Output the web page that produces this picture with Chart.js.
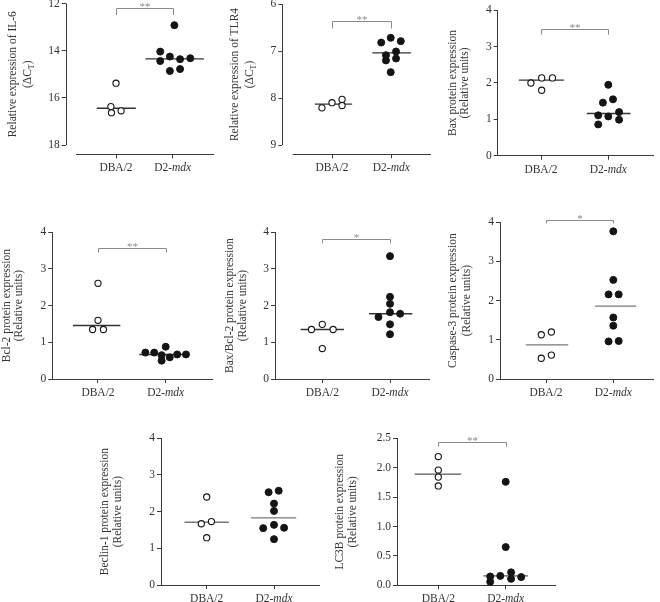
<!DOCTYPE html>
<html><head><meta charset="utf-8">
<script src="https://cdn.jsdelivr.net/npm/chart.js@4"></script>
<style>
html,body{margin:0;padding:0;background:#fff;}
#fig{position:relative;width:660px;height:602px;overflow:hidden;background:#fff;}
#fig canvas{position:absolute;}
</style></head><body><div id="fig"></div>
<script>
// ================= DATA =================
const groups = ['DBA/2', 'D2-mdx'];

const il6Title = ['Relative expression of IL-6', '(ΔC_T)'];
const il6Dba = [15.38, 16.37, 16.63, 16.55];
const il6Mdx = [12.92, 14.04, 14.44, 14.25, 14.36, 14.32, 14.86, 14.78];
const il6Median = [16.44, 14.35];
const il6Ticks = [12, 14, 16, 18];
const il6Sig = '**';

const tlr4Title = ['Relative expression of TLR4', '(ΔC_T)'];
const tlr4Dba = [8.21, 8.10, 8.03, 8.16];
const tlr4Mdx = [6.72, 6.82, 6.79, 7.09, 7.01, 7.20, 7.16, 7.45];
const tlr4Median = [8.13, 7.04];
const tlr4Ticks = [6, 7, 8, 9];
const tlr4Sig = '**';

const baxTitle = ['Bax protein expression', '(Relative units)'];
const baxDba = [2.00, 2.14, 2.14, 1.80];
const baxMdx = [1.95, 1.46, 1.55, 1.11, 1.08, 1.20, 0.86, 0.99];
const baxMedian = [2.08, 1.16];
const baxTicks = [0, 1, 2, 3, 4];
const baxSig = '**';

const bcl2Title = ['Bcl-2 protein expression', '(Relative units)'];
const bcl2Dba = [2.61, 1.60, 1.35, 1.35];
const bcl2Mdx = [0.72, 0.72, 0.88, 0.65, 0.59, 0.50, 0.67, 0.67];
const bcl2Median = [1.46, 0.67];
const bcl2Ticks = [0, 1, 2, 3, 4];
const bcl2Sig = '**';

const ratioTitle = ['Bax/Bcl-2 protein expression', '(Relative units)'];
const ratioDba = [1.35, 1.49, 1.35, 0.83];
const ratioMdx = [3.35, 2.24, 2.05, 1.69, 1.82, 1.78, 1.49, 1.22];
const ratioMedian = [1.35, 1.78];
const ratioTicks = [0, 1, 2, 3, 4];
const ratioSig = '*';

const casp3Title = ['Caspase-3 protein expression', '(Relative units)'];
const casp3Dba = [1.13, 1.20, 0.53, 0.61];
const casp3Mdx = [3.77, 2.53, 2.16, 2.16, 1.57, 1.36, 0.96, 0.97];
const casp3Median = [0.87, 1.86];
const casp3Ticks = [0, 1, 2, 3, 4];
const casp3Sig = '*';

const beclinTitle = ['Beclin-1 protein expression', '(Relative units)'];
const beclinDba = [2.40, 1.67, 1.73, 1.29];
const beclinMdx = [2.53, 2.57, 2.22, 2.02, 1.55, 1.64, 1.56, 1.25];
const beclinMedian = [1.71, 1.83];
const beclinTicks = [0, 1, 2, 3, 4];
const beclinSig = null;

const lc3bTitle = ['LC3B protein expression', '(Relative units)'];
const lc3bDba = [2.19, 1.96, 1.84, 1.69];
const lc3bMdx = [1.76, 0.65, 0.15, 0.16, 0.22, 0.11, 0.14, 0.06];
const lc3bMedian = [1.89, 0.16];
const lc3bTicks = [0, 0.5, 1.0, 1.5, 2.0, 2.5];
const lc3bSig = '**';

// ================= LAYOUT (positions / scatter spread / styles) =================
const FONT_FAMILY = "'Liberation Serif', 'DejaVu Serif', serif";
const TXT = '#333';
const AXIS = '#3a3a3a';
const SIGC = '#8a8a8a';
const PT = '#141414';

const panels = [
  { title: il6Title, dba: il6Dba, mdx: il6Mdx, med: il6Median, ticks: il6Ticks, sig: il6Sig, dec: 0,
    box: { l: 65.7, r: 214, t: 3.5, b: 154.3 }, cats: [116, 172.7], yRef: [[12, 3.5], [18, 145]], reverse: true,
    xStart: 76, titleX: [13, 28], bracket: [12.2, 12.49], medColor: '#333',
    spreadDba: [0.0, -0.09, -0.08, 0.09], spreadMdx: [0.03, -0.22, -0.22, -0.05, 0.13, 0.31, -0.05, 0.13],
    span: [[-0.34, 0.35], [-0.48, 0.55]] },
  { title: tlr4Title, dba: tlr4Dba, mdx: tlr4Mdx, med: tlr4Median, ticks: tlr4Ticks, sig: tlr4Sig, dec: 0,
    box: { l: 282.3, r: 431, t: 4, b: 154.3 }, cats: [332, 391.3], yRef: [[6, 4], [9, 145]], reverse: true,
    xStart: 292.7, titleX: [235, 250], bracket: [6.36, 6.52], medColor: '#333',
    spreadDba: [-0.17, 0, 0.17, 0.17], spreadMdx: [-0.01, -0.17, 0.16, -0.09, 0.08, -0.09, 0.08, -0.01],
    span: [[-0.29, 0.34], [-0.32, 0.33]] },
  { title: baxTitle, dba: baxDba, mdx: baxMdx, med: baxMedian, ticks: baxTicks, sig: baxSig, dec: 0,
    box: { l: 497.7, r: 653.3, t: 10.3, b: 155.7 }, cats: [541, 608.3], yRef: [[4, 10.3], [0, 155.7]], reverse: false,
    xStart: null, titleX: [453, 465], bracket: [3.48, 3.33], medColor: '#333',
    spreadDba: [-0.15, 0.01, 0.17, 0.01], spreadMdx: [0, -0.08, 0.07, -0.15, 0, 0.16, -0.15, 0.16],
    span: [[-0.33, 0.34], [-0.32, 0.33]] },
  { title: bcl2Title, dba: bcl2Dba, mdx: bcl2Mdx, med: bcl2Median, ticks: bcl2Ticks, sig: bcl2Sig, dec: 0,
    box: { l: 52.3, r: 212.7, t: 232.3, b: 379 }, cats: [98, 165.7], yRef: [[4, 232.3], [0, 379]], reverse: false,
    xStart: null, titleX: [7, 19], bracket: [3.56, 3.45], medColor: '#333',
    spreadDba: [0, 0, -0.08, 0.08], spreadMdx: [-0.30, -0.17, 0, -0.06, 0.06, -0.06, 0.17, 0.30],
    span: [[-0.37, 0.33], [-0.39, 0.35]] },
  { title: ratioTitle, dba: ratioDba, mdx: ratioMdx, med: ratioMedian, ticks: ratioTicks, sig: ratioSig, dec: 0,
    box: { l: 275, r: 429, t: 232.3, b: 379 }, cats: [322.3, 390], yRef: [[4, 232.3], [0, 379]], reverse: false,
    xStart: null, titleX: [230, 243], bracket: [3.81, 3.70], medColor: '#333',
    spreadDba: [-0.16, 0, 0.16, 0], spreadMdx: [0, 0, 0, -0.17, 0, 0.15, 0, 0],
    span: [[-0.32, 0.32], [-0.31, 0.33]] },
  { title: casp3Title, dba: casp3Dba, mdx: casp3Mdx, med: casp3Median, ticks: casp3Ticks, sig: casp3Sig, dec: 0,
    box: { l: 500, r: 653.3, t: 222.3, b: 379 }, cats: [546, 613.3], yRef: [[4, 222.3], [0, 379]], reverse: false,
    xStart: null, titleX: [453, 467], bracket: [4.07, 3.97], medColor: '#777',
    spreadDba: [-0.07, 0.08, -0.07, 0.08], spreadMdx: [0, 0, -0.07, 0.08, 0, 0, -0.07, 0.08],
    span: [[-0.30, 0.33], [-0.27, 0.34]] },
  { title: beclinTitle, dba: beclinDba, mdx: beclinMdx, med: beclinMedian, ticks: beclinTicks, sig: beclinSig, dec: 0,
    box: { l: 161, r: 319.3, t: 438.3, b: 585 }, cats: [206.7, 274], yRef: [[4, 438.3], [0, 585]], reverse: false,
    xStart: null, titleX: [105, 118], bracket: null, medColor: '#777',
    spreadDba: [0, -0.08, 0.07, 0], spreadMdx: [-0.08, 0.07, 0, 0, -0.16, 0, 0.15, 0],
    span: [[-0.33, 0.33], [-0.34, 0.33]] },
  { title: lc3bTitle, dba: lc3bDba, mdx: lc3bMdx, med: lc3bMedian, ticks: lc3bTicks, sig: lc3bSig, dec: 1,
    box: { l: 397, r: 555, t: 438.3, b: 585.3 }, cats: [438.3, 505.7], yRef: [[2.5, 438.3], [0, 585.3]], reverse: false,
    xStart: null, titleX: [340, 353], bracket: [2.44, 2.36], medColor: '#555',
    spreadDba: [0, 0, 0, 0], spreadMdx: [0, 0, -0.23, -0.08, 0.08, 0.08, 0.23, -0.23],
    span: [[-0.35, 0.34], [-0.33, 0.33]] }
];

// ================= helpers =================
function richParts(str) {
  if (str.startsWith('D2-')) return [{ t: 'D2-' }, { t: str.slice(3), it: true }];
  const parts = [];
  let buf = '';
  for (let i = 0; i < str.length; i++) {
    if (str[i] === '_' && i + 1 < str.length) {
      if (buf) parts.push({ t: buf }); buf = '';
      parts.push({ t: str[i + 1], sub: true }); i++;
    } else buf += str[i];
  }
  if (buf) parts.push({ t: buf });
  return parts;
}
function drawRich(ctx, str, x, y, size) {
  const parts = richParts(str);
  const fonts = parts.map(p => `${p.it ? 'italic ' : ''}${p.sub ? Math.round(size * 0.72) : size}px ${FONT_FAMILY}`);
  let w = 0;
  const ws = parts.map((p, i) => { ctx.font = fonts[i]; const m = ctx.measureText(p.t).width; w += m; return m; });
  let cx = x - w / 2;
  ctx.textAlign = 'left';
  ctx.textBaseline = 'middle';
  parts.forEach((p, i) => { ctx.font = fonts[i]; ctx.fillText(p.t, cx, y + (p.sub ? size * 0.3 : 0)); cx += ws[i]; });
}

const decor = {
  id: 'decor',
  afterDraw(chart, args, o) {
    const ctx = chart.ctx, xs = chart.scales.x, ys = chart.scales.y, ca = chart.chartArea;
    ctx.save();
    ctx.lineWidth = 1;
    if (o.xStart != null) {
      ctx.strokeStyle = AXIS;
      const ax = Math.round(ca.left) + 0.5;
      ctx.beginPath();
      ctx.moveTo(ax, ys.getPixelForValue(o.ticks[0]));
      ctx.lineTo(ax, ys.getPixelForValue(o.ticks[o.ticks.length - 1]));
      ctx.stroke();
      const by = Math.round(ca.bottom) + 0.5;
      ctx.beginPath();
      ctx.moveTo(o.xStart - o.canvasLeft, by);
      ctx.lineTo(ca.right, by);
      ctx.stroke();
    }
    ctx.fillStyle = TXT;
    groups.forEach((g, i) => drawRich(ctx, g, xs.getPixelForValue(i + 1), ca.bottom + 14, 11.5));
    const cy = (ys.getPixelForValue(o.ticks[0]) + ys.getPixelForValue(o.ticks[o.ticks.length - 1])) / 2;
    o.title.forEach((line, k) => {
      ctx.save();
      ctx.translate(o.titleX[k] - o.canvasLeft, cy);
      ctx.rotate(-Math.PI / 2);
      drawRich(ctx, line, 0, 0, 11.5);
      ctx.restore();
    });
    if (o.sig && o.bracket) {
      const x1 = Math.round(xs.getPixelForValue(1)) + 0.5, x2 = Math.round(xs.getPixelForValue(2)) + 0.5;
      const yb = Math.round(ys.getPixelForValue(o.bracket[0])) + 0.5, yl = ys.getPixelForValue(o.bracket[1]);
      ctx.strokeStyle = SIGC;
      ctx.beginPath();
      ctx.moveTo(x1, yl); ctx.lineTo(x1, yb); ctx.lineTo(x2, yb); ctx.lineTo(x2, yl);
      ctx.stroke();
      ctx.fillStyle = SIGC;
      ctx.font = `11px ${FONT_FAMILY}`;
      ctx.textAlign = 'center';
      ctx.textBaseline = 'alphabetic';
      ctx.fillText(o.sig, (x1 + x2) / 2, yb + 1.5);
    }
    ctx.restore();
  }
};

const fig = document.getElementById('fig');

function makePanel(p) {
  const B = p.box;
  const cl = Math.floor(B.l - 80), ct = Math.floor(B.t - 22), cr = Math.ceil(B.r + 12), cb = Math.ceil(B.b + 30);
  const cv = document.createElement('canvas');
  cv.width = cr - cl; cv.height = cb - ct;
  cv.style.left = cl + 'px'; cv.style.top = ct + 'px';
  cv.style.width = (cr - cl) + 'px'; cv.style.height = (cb - ct) + 'px';
  fig.appendChild(cv);

  const unit = p.cats[1] - p.cats[0];
  const xmin = 1 - (p.cats[0] - B.l) / unit, xmax = 2 + (B.r - p.cats[1]) / unit;
  const [[va, pa], [vb, pb]] = p.yRef;
  const k = (vb - va) / (pb - pa);
  const vTop = va + (B.t - pa) * k, vBot = va + (B.b - pa) * k;
  const ymin = Math.min(vTop, vBot), ymax = Math.max(vTop, vBot);

  const detached = p.xStart != null;
  const medLine = (g, i) => ({
    data: [{ x: g + p.span[i][0], y: p.med[i] }, { x: g + p.span[i][1], y: p.med[i] }],
    showLine: true, pointRadius: 0, borderColor: p.medColor, borderWidth: 1.4, clip: false
  });

  new Chart(cv, {
    type: 'scatter',
    data: {
      datasets: [
        { data: p.dba.map((v, i) => ({ x: 1 + p.spreadDba[i], y: v })), pointRadius: 3.1,
          pointBackgroundColor: '#fff', pointBorderColor: PT, pointBorderWidth: 1.1, clip: false },
        { data: p.mdx.map((v, i) => ({ x: 2 + p.spreadMdx[i], y: v })), pointRadius: 3.5,
          pointBackgroundColor: PT, pointBorderColor: PT, pointBorderWidth: 1, clip: false },
        medLine(1, 0),
        medLine(2, 1)
      ]
    },
    options: {
      responsive: false, animation: false, devicePixelRatio: 1,
      layout: { padding: { left: 0, top: B.t - ct, right: cr - B.r, bottom: 0 } },
      plugins: {
        legend: { display: false }, tooltip: { enabled: false },
        decor: { xStart: p.xStart, canvasLeft: cl, ticks: p.ticks, title: p.title, titleX: p.titleX, sig: p.sig, bracket: p.bracket }
      },
      events: [],
      scales: {
        x: {
          type: 'linear', min: xmin, max: xmax,
          afterBuildTicks: s => { s.ticks = groups.map((g, i) => ({ value: i + 1 })); },
          afterFit: s => { s.height = cb - B.b; },
          ticks: { display: false },
          grid: { display: true, drawOnChartArea: false, drawTicks: true, tickLength: 4, color: AXIS, lineWidth: 1 },
          border: { display: !detached, color: AXIS, width: 1 }
        },
        y: {
          type: 'linear', min: ymin, max: ymax, reverse: p.reverse,
          afterBuildTicks: s => { s.ticks = p.ticks.map(v => ({ value: v })); },
          afterFit: s => { s.width = B.l - cl; },
          ticks: { display: true, padding: 2, color: TXT, font: { family: FONT_FAMILY, size: 11.5 },
                   callback: v => Number(v).toFixed(p.dec) },
          grid: { display: true, drawOnChartArea: false, drawTicks: true, tickLength: 4, color: AXIS, lineWidth: 1 },
          border: { display: !detached, color: AXIS, width: 1 }
        }
      }
    },
    plugins: [decor]
  });
}

panels.forEach(makePanel);
</script>
</body></html>
